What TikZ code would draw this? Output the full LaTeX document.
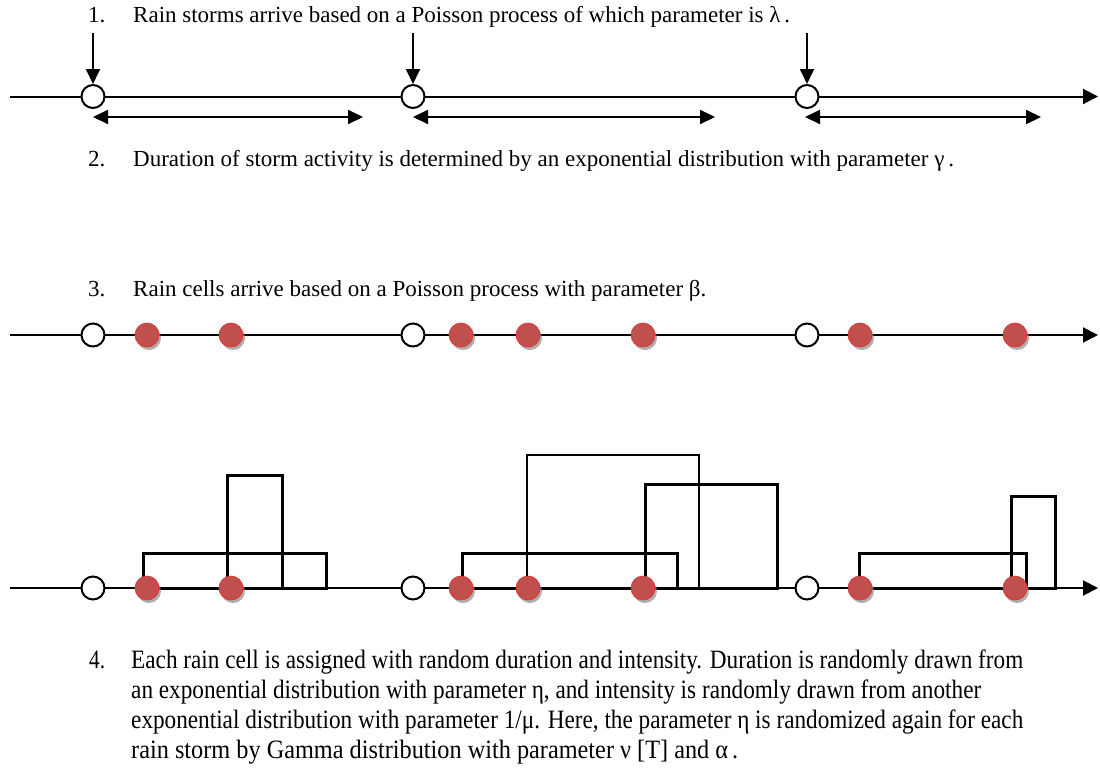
\documentclass[tikz,border=0pt]{standalone}
\usepackage{fontspec}
\setmainfont{Liberation Serif}
\usetikzlibrary{arrows.meta,shadows}
\definecolor{cellred}{HTML}{C0504D}
\definecolor{celledge}{HTML}{E8302C}
\begin{document}
\begin{tikzpicture}[x=1pt,y=-1pt,
  axisline/.style={line width=2pt,-{Triangle[length=15pt,width=15pt]}},
  downarr/.style={line width=1.8pt,-{Triangle[length=15pt,width=14pt]}},
  durarr/.style={line width=2pt,{Triangle[length=15pt,width=14pt]}-{Triangle[length=15pt,width=14pt]}},
  storm/.style={circle,draw,line width=2pt,fill=white,minimum size=23pt,inner sep=0pt},
  cell/.style={circle,fill=cellred,draw=celledge,line width=0.7pt,minimum size=24pt,inner sep=0pt,
    drop shadow={shadow xshift=2pt,shadow yshift=-3pt,fill=black!45,opacity=0.7}},
  bar/.style={line width=3pt,line join=miter},
  thinbar/.style={line width=2.3pt,line join=miter},
  txt/.style={anchor=base west,inner sep=0pt,font=\fontsize{23}{27}\selectfont},
  txtb/.style={anchor=base west,inner sep=0pt,font=\fontsize{26.5}{30}\selectfont}
]
\useasboundingbox (0,0) rectangle (1100,769);

% ---------- Step 1 ----------
\node[txt] (n1) at (88,22) {1.};
\node[txt] (t1) at (133,22) {Rain storms arrive based on a Poisson process of which parameter is λ\,.};
\coordinate (a1s) at (10,96.5);
\coordinate (a1e) at (1098,96.5);
\draw[axisline] (a1s) -- (a1e);
\node[storm] (s11) at (93,96.5) {};
\node[storm] (s12) at (413,96.5) {};
\node[storm] (s13) at (807,96.5) {};
\coordinate (d1) at (93,33);
\coordinate (d2) at (413,33);
\coordinate (d3) at (807,33);
\draw[downarr] (d1) -- (s11.north);
\draw[downarr] (d2) -- (s12.north);
\draw[downarr] (d3) -- (s13.north);
\coordinate (r1a) at (93,117); \coordinate (r1b) at (363,117);
\coordinate (r2a) at (413,117); \coordinate (r2b) at (715,117);
\coordinate (r3a) at (805,117); \coordinate (r3b) at (1041,117);
\draw[durarr] (r1a) -- (r1b);
\draw[durarr] (r2a) -- (r2b);
\draw[durarr] (r3a) -- (r3b);
\node[txt] (n2) at (88,166) {2.};
\node[txt] (t2) at (133,166) {Duration of storm activity is determined by an exponential distribution with parameter γ\,.};

% ---------- Step 3 ----------
\node[txt] (n3) at (88,296) {3.};
\node[txt] (t3) at (133,296) {Rain cells arrive based on a Poisson process with parameter β.};
\coordinate (a2s) at (10,335);
\coordinate (a2e) at (1098,335);
\draw[axisline] (a2s) -- (a2e);
\node[storm] (s21) at (93,335) {};
\node[storm] (s22) at (413,335) {};
\node[storm] (s23) at (807,335) {};
\foreach \x [count=\i] in {147,231,461,528,643,860,1015}
  \node[cell] (c2\i) at (\x,335) {};

% ---------- Step 4 diagram ----------
\coordinate (a3s) at (10,588);
\coordinate (a3e) at (1098,588);
\draw[axisline] (a3s) -- (a3e);
% storm 1
\draw[bar] (143,588) rectangle (326,553);
\draw[bar] (227,588) rectangle (282,475);
% storm 2
\draw[bar] (462,588) rectangle (677,553);
\draw[thinbar] (527,588) rectangle (699,455);
\draw[bar] (645,588) rectangle (777,484);
% storm 3
\draw[bar] (859,588) rectangle (1026,553);
\draw[bar] (1011,588) rectangle (1055,496);
\node[storm] (s31) at (93,588) {};
\node[storm] (s32) at (413,588) {};
\node[storm] (s33) at (807,588) {};
\foreach \x [count=\i] in {147,231,461,528,643,860,1015}
  \node[cell] (c3\i) at (\x,588) {};

% ---------- Step 4 text ----------
\node[txtb] (n4) at (89,668) {\resizebox{16pt}{\height}{4.}};
\node[txtb] (l1) at (131,668) {\resizebox{892pt}{\height}{Each rain cell is assigned with random duration and intensity. Duration is randomly drawn from}};
\node[txtb] (l2) at (131,698) {\resizebox{850pt}{\height}{an exponential distribution with parameter η, and intensity is randomly drawn from another}};
\node[txtb] (l3) at (131,728) {\resizebox{892pt}{\height}{exponential distribution with parameter 1/μ. Here, the parameter η is randomized again for each}};
\node[txtb] (l4) at (131,758) {\resizebox{607pt}{\height}{rain storm by Gamma distribution with parameter ν [T] and α\,.}};
\end{tikzpicture}
\end{document}
